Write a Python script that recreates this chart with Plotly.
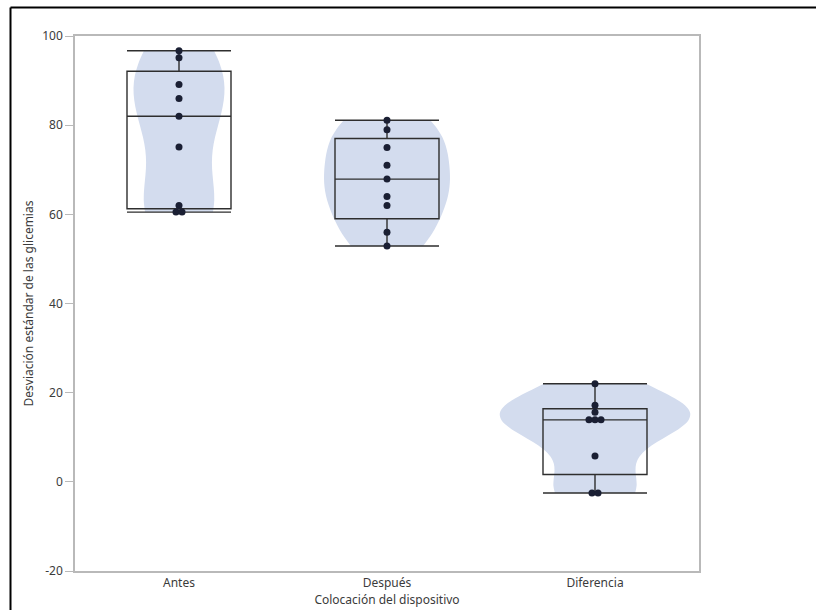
import numpy as np
import plotly.graph_objects as go
from collections import Counter

# Glycemia standard deviation per patient, by device placement
categories = ["Antes", "Después", "Diferencia"]
antes = [96.7, 95.1, 89.1, 86.0, 82.0, 75.1, 62.0, 60.5, 60.5]
despues = [81.1, 79.0, 75.0, 71.0, 67.9, 64.0, 62.0, 56.0, 52.9]
diferencia = [22.0, 17.2, 15.6, 13.9, 13.9, 13.9, 5.8, -2.5, -2.5]
series = [antes, despues, diferencia]

y_ticks = [-20, 0, 20, 40, 60, 80, 100]

VIOLIN_FILL = "#d3dcee"
BOX_LINE = "#2e2e2e"
POINT_COLOR = "#1a1f33"
AXIS_GRAY = "#b9b9b9"
TEXT = "#3b3b3b"
FONT = "Noto Sans"
MAX_FULL_WIDTH = 0.915  # width (x units) of the densest violin


def bandwidth(vals):
    v = np.asarray(vals, dtype=float)
    return 0.9 * v.std(ddof=1) * len(v) ** -0.2


def kde(vals, grid, h):
    v = np.asarray(vals, dtype=float)
    z = (grid[:, None] - v[None, :]) / h
    return np.exp(-0.5 * z ** 2).sum(axis=1) / (len(v) * h * np.sqrt(2 * np.pi))


# peak density of each group, so all violins share one density scale
bws = [bandwidth(v) for v in series]
peaks = [kde(v, np.linspace(min(v), max(v), 400), h).max()
         for v, h in zip(series, bws)]
top_peak = max(peaks)

fig = go.Figure()

for i, (vals, h, pk) in enumerate(zip(series, bws, peaks)):
    fig.add_trace(go.Violin(
        x=[i] * len(vals), y=vals, orientation="v",
        bandwidth=h, spanmode="hard",
        scalegroup=f"g{i}", scalemode="width",
        width=MAX_FULL_WIDTH * pk / top_peak,
        points=False, box=dict(visible=False), meanline=dict(visible=False),
        fillcolor=VIOLIN_FILL, line=dict(color=VIOLIN_FILL, width=0),
        opacity=1, hoverinfo="skip", showlegend=False,
    ))

# box plots with capped whiskers
for i, vals in enumerate(series):
    fig.add_trace(go.Box(
        x=[i] * len(vals), y=vals, orientation="v",
        boxpoints=False, quartilemethod="exclusive",
        width=0.5, whiskerwidth=1,
        fillcolor="rgba(0,0,0,0)", line=dict(color=BOX_LINE, width=1.4),
        hoverinfo="skip", showlegend=False,
    ))

# individual points, spread sideways when values coincide
step = 0.029
for i, vals in enumerate(series):
    counts = Counter(vals)
    seen = Counter()
    xs = []
    for v in vals:
        k = counts[v]
        xs.append(i + (seen[v] - (k - 1) / 2) * step)
        seen[v] += 1
    fig.add_trace(go.Scatter(
        x=xs, y=vals, mode="markers",
        marker=dict(size=7, color=POINT_COLOR),
        hoverinfo="skip", showlegend=False,
    ))

axis_common = dict(
    showline=True, mirror=True, linecolor=AXIS_GRAY, linewidth=1.5,
    showgrid=False, zeroline=False,
    tickfont=dict(family=FONT, size=12, color=TEXT),
)

fig.update_layout(
    width=816, height=610,
    margin=dict(l=75, r=117, t=36, b=39, autoexpand=False),
    paper_bgcolor="white", plot_bgcolor="white",
    boxmode="overlay", violinmode="overlay",
    font=dict(family=FONT, size=12, color=TEXT),
    xaxis=dict(
        **axis_common,
        range=[-0.5, 2.5], tickmode="array",
        tickvals=list(range(len(categories))), ticktext=categories,
        ticks="",
        title=dict(text="Colocación del dispositivo",
                   font=dict(family=FONT, size=12, color=TEXT), standoff=2),
    ),
    yaxis=dict(
        **axis_common,
        range=[-20, 100], tickmode="array", tickvals=y_ticks,
        ticktext=[str(t) for t in y_ticks],
        ticks="outside", ticklen=8, tickcolor=AXIS_GRAY, tickwidth=1,
        title=dict(text="Desviación estándar de las glicemias",
                   font=dict(family=FONT, size=12, color=TEXT), standoff=6),
    ),
    shapes=[
        dict(type="line", xref="paper", yref="paper",
             x0=(10.5 - 75) / 624, x1=(816 - 75) / 624,
             y0=(571 - 7.5) / 535, y1=(571 - 7.5) / 535,
             line=dict(color="black", width=2)),
        dict(type="line", xref="paper", yref="paper",
             x0=(10.5 - 75) / 624, x1=(10.5 - 75) / 624,
             y0=(571 - 7.5) / 535, y1=(571 - 620) / 535,
             line=dict(color="black", width=2)),
    ],
)

fig.write_html("out.html")
